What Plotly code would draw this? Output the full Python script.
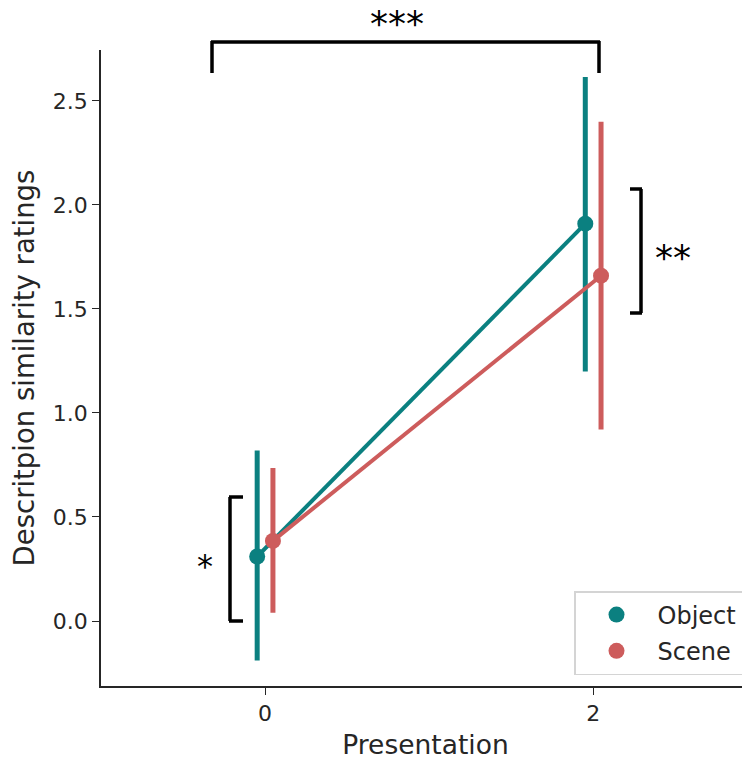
import plotly.graph_objects as go

# ---- data ----
presentation_labels = ["0", "2"]
object_mean = [0.31, 1.91]
object_ci_low = [-0.19, 1.20]
object_ci_high = [0.82, 2.615]
scene_mean = [0.385, 1.66]
scene_ci_low = [0.04, 0.92]
scene_ci_high = [0.735, 2.40]

TEAL = "#0b8080"
RED = "#cd5c5c"
FONT = "DejaVu Sans"
TXT = "#262626"

# page body has an 8px margin; figure sized so that it fills the 750x760 window
OFF = 8
W, H = 750 - OFF, 760 - OFF
ML, MR, MT, MB = 101 - OFF, 0, 50 - OFF, 760 - 686
PW, PH = W - ML - MR, H - MT - MB

def px(sx):  # screen x -> paper
    return (sx - 101) / PW

def py(sy):  # screen y -> paper
    return (686 - sy) / PH

pos = list(range(len(presentation_labels)))
dodge = 0.024

fig = go.Figure()

def add_series(name, mean, lo, hi, color, off):
    xs = [p + off for p in pos]
    fig.add_trace(go.Scatter(
        x=xs, y=mean, mode="lines+markers", name=name, showlegend=False,
        line=dict(color=color, width=4),
        marker=dict(color=color, size=16),
        error_y=dict(type="data", symmetric=False,
                     array=[h - m for h, m in zip(hi, mean)],
                     arrayminus=[m - l for m, l in zip(mean, lo)],
                     color=color, thickness=5, width=0),
    ))
    fig.add_trace(go.Scatter(
        x=[None], y=[None], mode="markers", name=name, legendgroup=name,
        marker=dict(color=color, size=18),
    ))

add_series("Object", object_mean, object_ci_low, object_ci_high, TEAL, -dodge)
add_series("Scene", scene_mean, scene_ci_low, scene_ci_high, RED, dodge)

# significance brackets (screen pixel positions converted to paper coords)
line = dict(color="black", width=3.5)
shapes = []
def seg(x0, y0, x1, y1):
    shapes.append(dict(type="line", xref="paper", yref="paper",
                       x0=px(x0), y0=py(y0), x1=px(x1), y1=py(y1), line=line))
# top bracket
seg(211, 42, 600, 42); seg(212, 41, 212, 73); seg(599, 41, 599, 73)
# right bracket
seg(641, 189, 641, 313); seg(630, 189, 642, 189); seg(630, 313, 642, 313)
# left bracket
seg(230, 497, 230, 621); seg(229, 497, 243, 497); seg(229, 621, 243, 621)

def star(text, sx, sy, size):
    return dict(text=text, x=px(sx), y=py(sy), xref="paper", yref="paper",
                xanchor="center", yanchor="middle", showarrow=False,
                font=dict(size=size, color="black", family=FONT))

annotations = [
    star("***", 397, 24, 36),
    star("**", 673, 257, 36),
    star("*", 205, 566, 32),
]

fig.update_layout(
    width=W, height=H,
    margin=dict(l=ML, r=MR, t=MT, b=MB),
    paper_bgcolor="white", plot_bgcolor="white",
    font=dict(family=FONT, color=TXT),
    shapes=shapes, annotations=annotations,
    legend=dict(x=px(743), y=py(675), xanchor="right", yanchor="bottom",
                bgcolor="white", bordercolor="#d4d4d4", borderwidth=1.5,
                font=dict(size=24, color=TXT, family=FONT),
                itemwidth=72, tracegroupgap=2),
    xaxis=dict(range=[-0.5, 1.478], tickmode="array", tickvals=pos,
               ticktext=presentation_labels, showgrid=False, zeroline=False,
               showline=True, linecolor="#262626", linewidth=1.5,
               ticks="outside", ticklen=7, tickwidth=1.3, tickcolor="#262626",
               tickfont=dict(size=22, color=TXT),
               title=dict(text="Presentation", font=dict(size=26.5, color=TXT), standoff=10)),
    yaxis=dict(range=[-0.3125, 2.745], tickvals=[0, 0.5, 1.0, 1.5, 2.0, 2.5],
               tickformat=".1f", showgrid=False, zeroline=False,
               showline=True, linecolor="#262626", linewidth=1.5,
               ticks="outside", ticklen=7, tickwidth=1.3, tickcolor="#262626",
               tickfont=dict(size=22, color=TXT),
               title=dict(text="Descritpion similarity ratings", font=dict(size=27.5, color=TXT), standoff=10)),
)

fig.write_html("out.html")
